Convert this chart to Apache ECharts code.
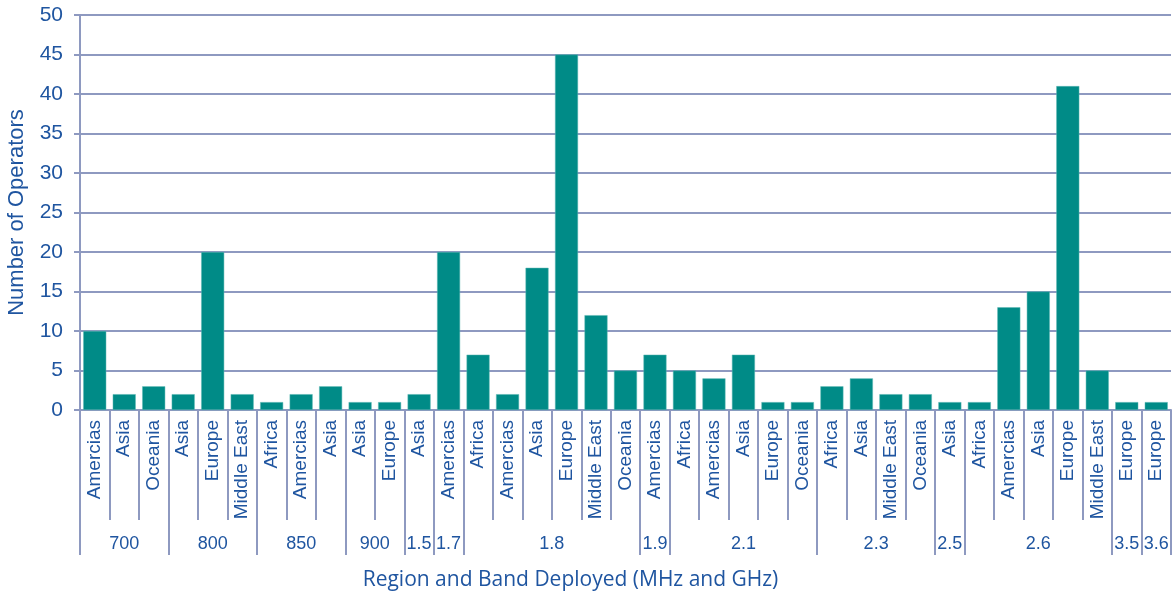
<!DOCTYPE html>
<html>
<head>
<meta charset="utf-8">
<script src="https://cdn.jsdelivr.net/npm/echarts@6/dist/echarts.min.js"></script>
<style>
html,body{margin:0;padding:0;background:#fff;}
#chart{width:1173px;height:593px;}
</style>
</head>
<body>
<div id="chart"></div>
<script>
// ---- data ----
const bands = ['700','800','850','900','1.5','1.7','1.8','1.9','2.1','2.3','2.5','2.6','3.5','3.6'];
const bandSizes = [3,3,3,2,1,1,6,1,5,4,1,5,1,1];
const regions = [
  'Amercias','Asia','Oceania',
  'Asia','Europe','Middle East',
  'Africa','Amercias','Asia',
  'Asia','Europe',
  'Asia',
  'Amercias',
  'Africa','Amercias','Asia','Europe','Middle East','Oceania',
  'Amercias',
  'Africa','Amercias','Asia','Europe','Oceania',
  'Africa','Asia','Middle East','Oceania',
  'Asia',
  'Africa','Amercias','Asia','Europe','Middle East',
  'Europe',
  'Europe'
];
const operators = [
  10,2,3,
  2,20,2,
  1,2,3,
  1,1,
  2,
  20,
  7,2,18,45,12,5,
  7,
  5,4,7,1,1,
  3,4,2,2,
  1,
  1,13,15,41,5,
  1,
  1
];
const yTicks = {min:0, max:50, step:5};

// ---- build band axis in half-category units ----
const halfCount = regions.length * 2 + 1;
const bandAxisData = new Array(halfCount).fill('');
const boundarySet = new Set([0]);
const centerSet = new Set();
let start = 0;
bands.forEach((b, i) => {
  const center = start * 2 + bandSizes[i];
  bandAxisData[center] = b;
  centerSet.add(center);
  start += bandSizes[i];
  boundarySet.add(start * 2);
});

const textColor = '#1f55a0';
const lineColor = '#8e99c0';
const sans = 'Liberation Sans, Arial, sans-serif';

const chart = echarts.init(document.getElementById('chart'), null, {renderer:'canvas'});
chart.setOption({
  animation: false,
  backgroundColor: '#ffffff',
  grid: {left: 80, right: 2, top: 15, bottom: 183, containLabel: false, outerBoundsMode: 'none'},
  xAxis: [
    {
      type: 'category',
      position: 'bottom',
      data: regions,
      boundaryGap: true,
      axisLine: {show: true, lineStyle: {color: lineColor, width: 2}},
      axisTick: {show: true, length: 110, lineStyle: {color: lineColor, width: 2}},
      axisLabel: {
        interval: 0, rotate: 90, margin: 10,
        color: textColor, fontSize: 19, fontFamily: sans
      },
      splitLine: {show: false},
      name: 'Region and Band Deployed (MHz and GHz)',
      nameLocation: 'middle',
      nameGap: 160,
      nameTextStyle: {color: textColor, fontSize: 21, fontFamily: 'Open Sans, sans-serif', padding: [0, 110, 0, 0]}
    },
    {
      type: 'category',
      position: 'bottom',
      data: bandAxisData,
      boundaryGap: false,
      axisLine: {show: false},
      axisTick: {
        show: true, length: 145,
        interval: (idx) => boundarySet.has(idx),
        lineStyle: {color: lineColor, width: 2}
      },
      axisLabel: {
        show: true, margin: 125,
        interval: (idx) => centerSet.has(idx),
        color: textColor, fontSize: 18, fontFamily: sans
      },
      splitLine: {show: false}
    }
  ],
  yAxis: {
    type: 'value',
    min: yTicks.min, max: yTicks.max, interval: yTicks.step,
    axisLine: {show: true, lineStyle: {color: lineColor, width: 2}},
    axisTick: {show: true, length: 6, lineStyle: {color: lineColor, width: 2}},
    axisLabel: {color: textColor, fontSize: 21, margin: 17, fontFamily: sans},
    splitLine: {show: true, lineStyle: {color: lineColor, width: 2}},
    name: 'Number of Operators',
    nameLocation: 'middle',
    nameGap: 52,
    nameTextStyle: {color: textColor, fontSize: 22, fontFamily: sans}
  },
  series: [{
    type: 'bar',
    xAxisIndex: 0,
    data: operators,
    barCategoryGap: '22%',
    itemStyle: {color: '#008b87', borderColor: '#5fb8b4', borderWidth: 0.5}
  }]
});
</script>
</body>
</html>
